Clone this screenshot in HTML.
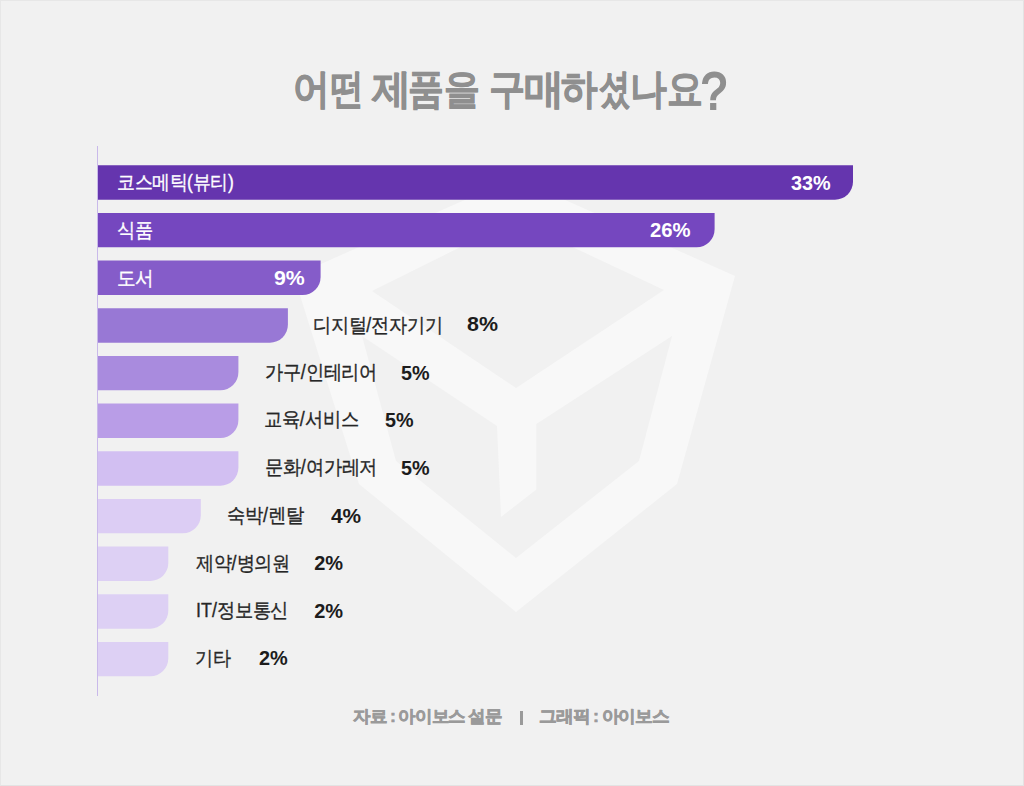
<!DOCTYPE html>
<html><head><meta charset="utf-8">
<style>
html,body{margin:0;padding:0;}
body{width:1024px;height:786px;background:#f1f1f1;position:relative;overflow:hidden;font-family:"Liberation Sans",sans-serif;}
.t{position:absolute;white-space:nowrap;line-height:1;transform-origin:0 0;}
.title{font-weight:bold;color:#8f8f8f;}
.axis{position:absolute;left:97px;top:146px;width:1px;height:550px;background:#c9b9ea;}
.bar{position:absolute;left:98px;height:34.6px;border-bottom-right-radius:18px;}
.lbl{color:#262626;}
.in{color:#fff;}
.pct{font-weight:bold;color:#1c1c1c;}
.pin{color:#fff;}
.foot{font-weight:bold;color:#9a9a9a;}
.title{-webkit-text-stroke:0.7px #8f8f8f}.lbl{-webkit-text-stroke:0.3px currentColor}.foot{-webkit-text-stroke:0.6px #9a9a9a;letter-spacing:-1.2px}.sep{position:absolute;left:519.5px;top:710.8px;width:3.6px;height:14.2px;background:#9a9a9a}.frame{position:absolute;left:0;top:0;width:1022px;height:784px;border:1px solid #e3e3e3;border-top-color:#e7e7e7;border-left-color:#e7e7e7;}#tg11{font-weight:normal;-webkit-text-stroke:1.5px #8f8f8f}
</style></head><body>
<svg width="1024" height="786" style="position:absolute;left:0;top:0">
  <path fill="#f8f8f8" fill-rule="evenodd" d="M515 177.5 L735 276 L677 484 L516 612 L359 484 L294 276 Z M515 220 L664 290 L516 388 L372 291 Z M362 336 L497 426 L501 517 L536.4 489.5 L536.4 424 L672 336 L639 461 L516 558 L396 461 Z"/>
</svg>
<div class="axis"></div>
<svg width="1024" height="786" style="position:absolute;left:0;top:0">
<path fill="#6535ae" d="M98 165.30H853.00V181.70A18 18 0 0 1 835.00 199.70H98Z"/>
<path fill="#7547bf" d="M98 212.96H714.60V229.36A18 18 0 0 1 696.60 247.36H98Z"/>
<path fill="#855cc9" d="M98 260.62H320.60V277.02A18 18 0 0 1 302.60 295.02H98Z"/>
<path fill="#9878d5" d="M98 308.28H287.90V324.68A18 18 0 0 1 269.90 342.68H98Z"/>
<path fill="#a98bde" d="M98 355.94H238.40V372.34A18 18 0 0 1 220.40 390.34H98Z"/>
<path fill="#b99de7" d="M98 403.60H238.40V420.00A18 18 0 0 1 220.40 438.00H98Z"/>
<path fill="#d2bff2" d="M98 451.26H238.40V467.66A18 18 0 0 1 220.40 485.66H98Z"/>
<path fill="#dccdf4" d="M98 498.92H200.80V515.32A18 18 0 0 1 182.80 533.32H98Z"/>
<path fill="#ddd0f4" d="M98 546.58H168.30V562.98A18 18 0 0 1 150.30 580.98H98Z"/>
<path fill="#ddd0f4" d="M98 594.24H168.30V610.64A18 18 0 0 1 150.30 628.64H98Z"/>
<path fill="#ddd0f4" d="M98 641.90H168.30V658.30A18 18 0 0 1 150.30 676.30H98Z"/>
</svg>
<div class="t title" id="tg0" style="left:293.33px;top:68.04px;font-size:40px;transform:scale(0.9138,1.0184)">어</div>
<div class="t title" id="tg1" style="left:330.45px;top:68.04px;font-size:40px;transform:scale(0.8326,1.0184)">떤</div>
<div class="t title" id="tg2" style="left:371.91px;top:68.04px;font-size:40px;transform:scale(0.9697,1.0184)">제</div>
<div class="t title" id="tg3" style="left:408.44px;top:68.04px;font-size:40px;transform:scale(0.8889,1.0184)">품</div>
<div class="t title" id="tg4" style="left:444.32px;top:68.04px;font-size:40px;transform:scale(0.8903,1.0184)">을</div>
<div class="t title" id="tg5" style="left:488.94px;top:68.04px;font-size:40px;transform:scale(0.9014,1.0184)">구</div>
<div class="t title" id="tg6" style="left:523.89px;top:68.04px;font-size:40px;transform:scale(0.9941,1.0184)">매</div>
<div class="t title" id="tg7" style="left:560.99px;top:68.04px;font-size:40px;transform:scale(0.9089,1.0184)">하</div>
<div class="t title" id="tg8" style="left:599.34px;top:68.04px;font-size:40px;transform:scale(0.7745,1.0184)">셨</div>
<div class="t title" id="tg9" style="left:629.65px;top:68.04px;font-size:40px;transform:scale(0.9143,1.0184)">나</div>
<div class="t title" id="tg10" style="left:666.62px;top:68.04px;font-size:40px;transform:scale(0.8917,1.0184)">요</div>
<div class="t title" id="tg11" style="left:701.23px;top:64.94px;font-size:40px;transform:scale(1.1663,1.3051)">?</div>
<div class="t lbl in" id="r1l" style="left:116.60px;top:172.58px;font-size:18px;transform:scale(0.9732,1.0900)">코스메틱(뷰티)</div>
<div class="t pct pin" id="r1p" style="left:790.76px;top:171.93px;font-size:20px;transform:scale(0.9913,1.0484)">33%</div>
<div class="t lbl in" id="r2l" style="left:117.06px;top:221.35px;font-size:18px;transform:scale(0.9941,1.0900)">식품</div>
<div class="t pct pin" id="r2p" style="left:650.03px;top:219.91px;font-size:20px;transform:scale(1.0132,0.9965)">26%</div>
<div class="t lbl in" id="r3l" style="left:116.92px;top:268.55px;font-size:18px;transform:scale(1.0171,1.0900)">도서</div>
<div class="t pct pin" id="r3p" style="left:273.58px;top:267.36px;font-size:20px;transform:scale(1.0655,1.0414)">9%</div>
<div class="t lbl" id="r4l" style="left:313.22px;top:315.86px;font-size:18px;transform:scale(0.9882,1.0900)">디지털/전자기기</div>
<div class="t pct" id="r4p" style="left:467.26px;top:314.42px;font-size:20px;transform:scale(1.0709,1.0175)">8%</div>
<div class="t lbl" id="r5l" style="left:264.53px;top:363.37px;font-size:18px;transform:scale(0.9918,1.0900)">가구/인테리어</div>
<div class="t pct" id="r5p" style="left:401.19px;top:362.86px;font-size:20px;transform:scale(0.9891,1.0175)">5%</div>
<div class="t lbl" id="r6l" style="left:264.25px;top:410.48px;font-size:18px;transform:scale(0.9935,1.0900)">교육/서비스</div>
<div class="t pct" id="r6p" style="left:384.59px;top:410.41px;font-size:20px;transform:scale(0.9891,1.0175)">5%</div>
<div class="t lbl" id="r7l" style="left:264.95px;top:458.48px;font-size:18px;transform:scale(0.9941,1.0900)">문화/여가레저</div>
<div class="t pct" id="r7p" style="left:401.19px;top:457.96px;font-size:20px;transform:scale(0.9891,1.0175)">5%</div>
<div class="t lbl" id="r8l" style="left:226.67px;top:505.67px;font-size:18px;transform:scale(0.9987,1.0900)">숙박/렌탈</div>
<div class="t pct" id="r8p" style="left:330.79px;top:505.51px;font-size:20px;transform:scale(1.0429,1.0175)">4%</div>
<div class="t lbl" id="r9l" style="left:195.93px;top:553.98px;font-size:18px;transform:scale(0.9882,1.0900)">제약/병의원</div>
<div class="t pct" id="r9p" style="left:314.25px;top:553.06px;font-size:20px;transform:scale(1.0000,1.0175)">2%</div>
<div class="t lbl" id="r10l" style="left:195.89px;top:601.44px;font-size:18px;transform:scale(0.9933,1.0900)">IT/정보통신</div>
<div class="t pct" id="r10p" style="left:314.25px;top:600.61px;font-size:20px;transform:scale(1.0000,1.0175)">2%</div>
<div class="t lbl" id="r11l" style="left:194.87px;top:648.65px;font-size:18px;transform:scale(0.9871,1.0900)">기타</div>
<div class="t pct" id="r11p" style="left:259.39px;top:648.16px;font-size:20px;transform:scale(0.9964,1.0175)">2%</div>
<div class="t foot" id="footA" style="left:352.72px;top:708.16px;font-size:18px;transform:scale(0.9868,0.9600)">자료 : 아이보스 설문</div>
<div class="t foot" id="footB" style="left:539.38px;top:708.16px;font-size:18px;transform:scale(0.9981,0.9600)">그래픽 : 아이보스</div>
<div class="sep"></div>
<div class="frame"></div>
</body></html>
